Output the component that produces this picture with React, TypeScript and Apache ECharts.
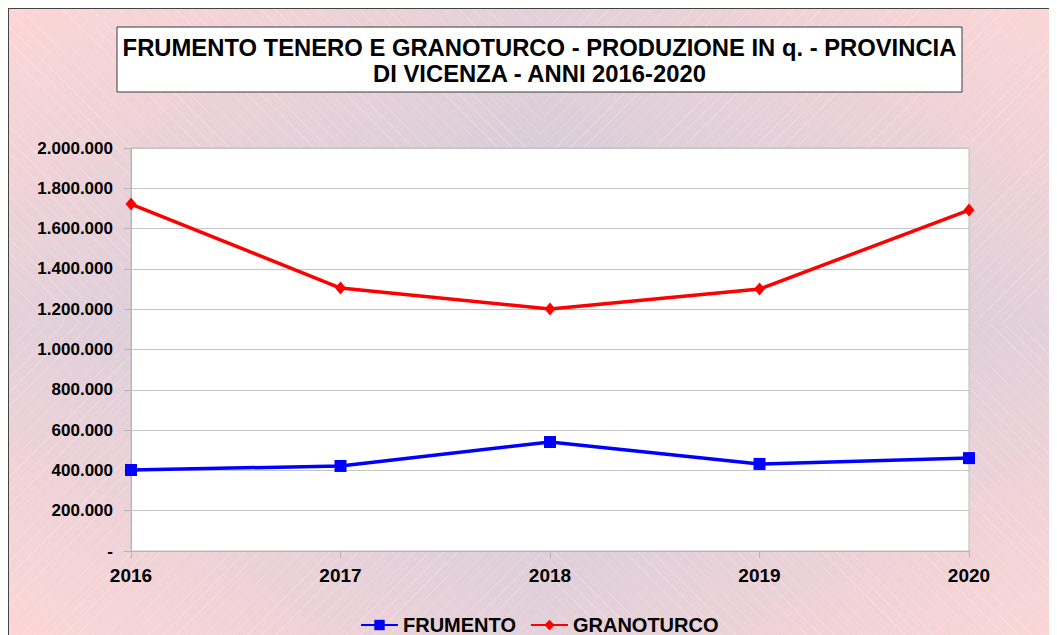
import React, { useEffect, useRef } from "react";
import * as echarts from "echarts";

const years = ["2016", "2017", "2018", "2019", "2020"];
const frumento = [402000, 422000, 541000, 432000, 461000];
const granoturco = [1722000, 1305000, 1201000, 1300000, 1692000];
const titleLines = [
  "FRUMENTO TENERO E GRANOTURCO - PRODUZIONE IN q. - PROVINCIA",
  "DI VICENZA - ANNI 2016-2020",
];

const FONT = "'Liberation Sans', Arial, sans-serif";

function fmt(v: number): string {
  if (v === 0) return "-";
  return String(Math.round(v)).replace(/\B(?=(\d{3})+(?!\d))/g, ".");
}

const BLUE_C = "#cbcbdc";
const PINK_C = "#fdd6d6";
const hatch = "rgba(255,255,255,0.18)";

const bg = [
  `repeating-linear-gradient(45deg, ${hatch} 0px, ${hatch} 1px, transparent 1px, transparent 10px) top left / 50% 50% no-repeat`,
  `repeating-linear-gradient(-45deg, ${hatch} 0px, ${hatch} 1px, transparent 1px, transparent 10px) top right / 50% 50% no-repeat`,
  `repeating-linear-gradient(-45deg, ${hatch} 0px, ${hatch} 1px, transparent 1px, transparent 10px) bottom left / 50% 50% no-repeat`,
  `repeating-linear-gradient(45deg, ${hatch} 0px, ${hatch} 1px, transparent 1px, transparent 10px) bottom right / 50% 50% no-repeat`,
  `linear-gradient(to top left, ${BLUE_C}, ${PINK_C}) top left / 50% 50% no-repeat`,
  `linear-gradient(to top right, ${BLUE_C}, ${PINK_C}) top right / 50% 50% no-repeat`,
  `linear-gradient(to bottom left, ${BLUE_C}, ${PINK_C}) bottom left / 50% 50% no-repeat`,
  `linear-gradient(to bottom right, ${BLUE_C}, ${PINK_C}) bottom right / 50% 50% no-repeat`,
].join(", ");

export default function App() {
  const ref = useRef<HTMLDivElement>(null);
  useEffect(() => {
    if (!ref.current) return;
    const chart = echarts.init(ref.current, undefined, { renderer: "svg" });
    chart.setOption({
      animation: false,
      backgroundColor: "transparent",
      textStyle: { fontFamily: FONT },
      graphic: [
        {
          type: "rect",
          shape: { x: 108, y: 18, width: 845, height: 65 },
          style: { fill: "#ffffff", stroke: "#3a3a3a", lineWidth: 1 },
          z: 10,
        },
        {
          type: "text",
          x: 530.5,
          y: 38,
          style: {
            text: titleLines[0],
            fill: "#000",
            font: `bold 23.8px ${FONT}`,
            textAlign: "center",
            textVerticalAlign: "middle",
          },
          z: 11,
        },
        {
          type: "text",
          x: 530.5,
          y: 64,
          style: {
            text: titleLines[1],
            fill: "#000",
            font: `bold 23.8px ${FONT}`,
            textAlign: "center",
            textVerticalAlign: "middle",
          },
          z: 11,
        },
      ],
      grid: {
        left: 122,
        top: 139,
        right: 104,
        bottom: 88,
        show: true,
        backgroundColor: "#ffffff",
        borderColor: "#bdbdbd",
        borderWidth: 1,
      },
      legend: {
        left: 346,
        top: 601,
        itemWidth: 37,
        itemHeight: 13,
        itemGap: 14,
        textStyle: { fontSize: 20, fontWeight: "bold", color: "#000", fontFamily: FONT },
        data: ["FRUMENTO", "GRANOTURCO"],
      },
      xAxis: {
        type: "category",
        data: years,
        boundaryGap: false,
        axisLine: { lineStyle: { color: "#b5b5b5", width: 1 } },
        axisTick: { show: true, length: 7, lineStyle: { color: "#b5b5b5" } },
        axisLabel: { fontSize: 19, fontWeight: "bold", color: "#000", margin: 15 },
        splitLine: { show: false },
      },
      yAxis: {
        type: "value",
        min: 0,
        max: 2000000,
        interval: 200000,
        axisLine: { show: true, lineStyle: { color: "#b5b5b5", width: 1 } },
        axisTick: { show: true, length: 7, lineStyle: { color: "#b5b5b5" } },
        axisLabel: {
          fontSize: 17,
          fontWeight: "bold",
          color: "#000",
          margin: 18,
          formatter: (v: number) => fmt(v),
        },
        splitLine: { show: true, lineStyle: { color: "#c4c4c4", width: 1 } },
      },
      series: [
        {
          name: "FRUMENTO",
          type: "line",
          data: frumento,
          symbol: "rect",
          symbolSize: 12,
          color: "#0000ff",
          lineStyle: { width: 3.5, color: "#0000ff" },
          itemStyle: { color: "#0000ff" },
        },
        {
          name: "GRANOTURCO",
          type: "line",
          data: granoturco,
          symbol: "diamond",
          symbolSize: [11, 13],
          color: "#ff0000",
          lineStyle: { width: 3.5, color: "#ff0000" },
          itemStyle: { color: "#ff0000" },
        },
      ],
    });
    return () => chart.dispose();
  }, []);
  return (
    <div
      ref={ref}
      style={{
        width: 1064,
        height: 630,
        border: "1px solid #444",
        background: bg,
      }}
    />
  );
}
